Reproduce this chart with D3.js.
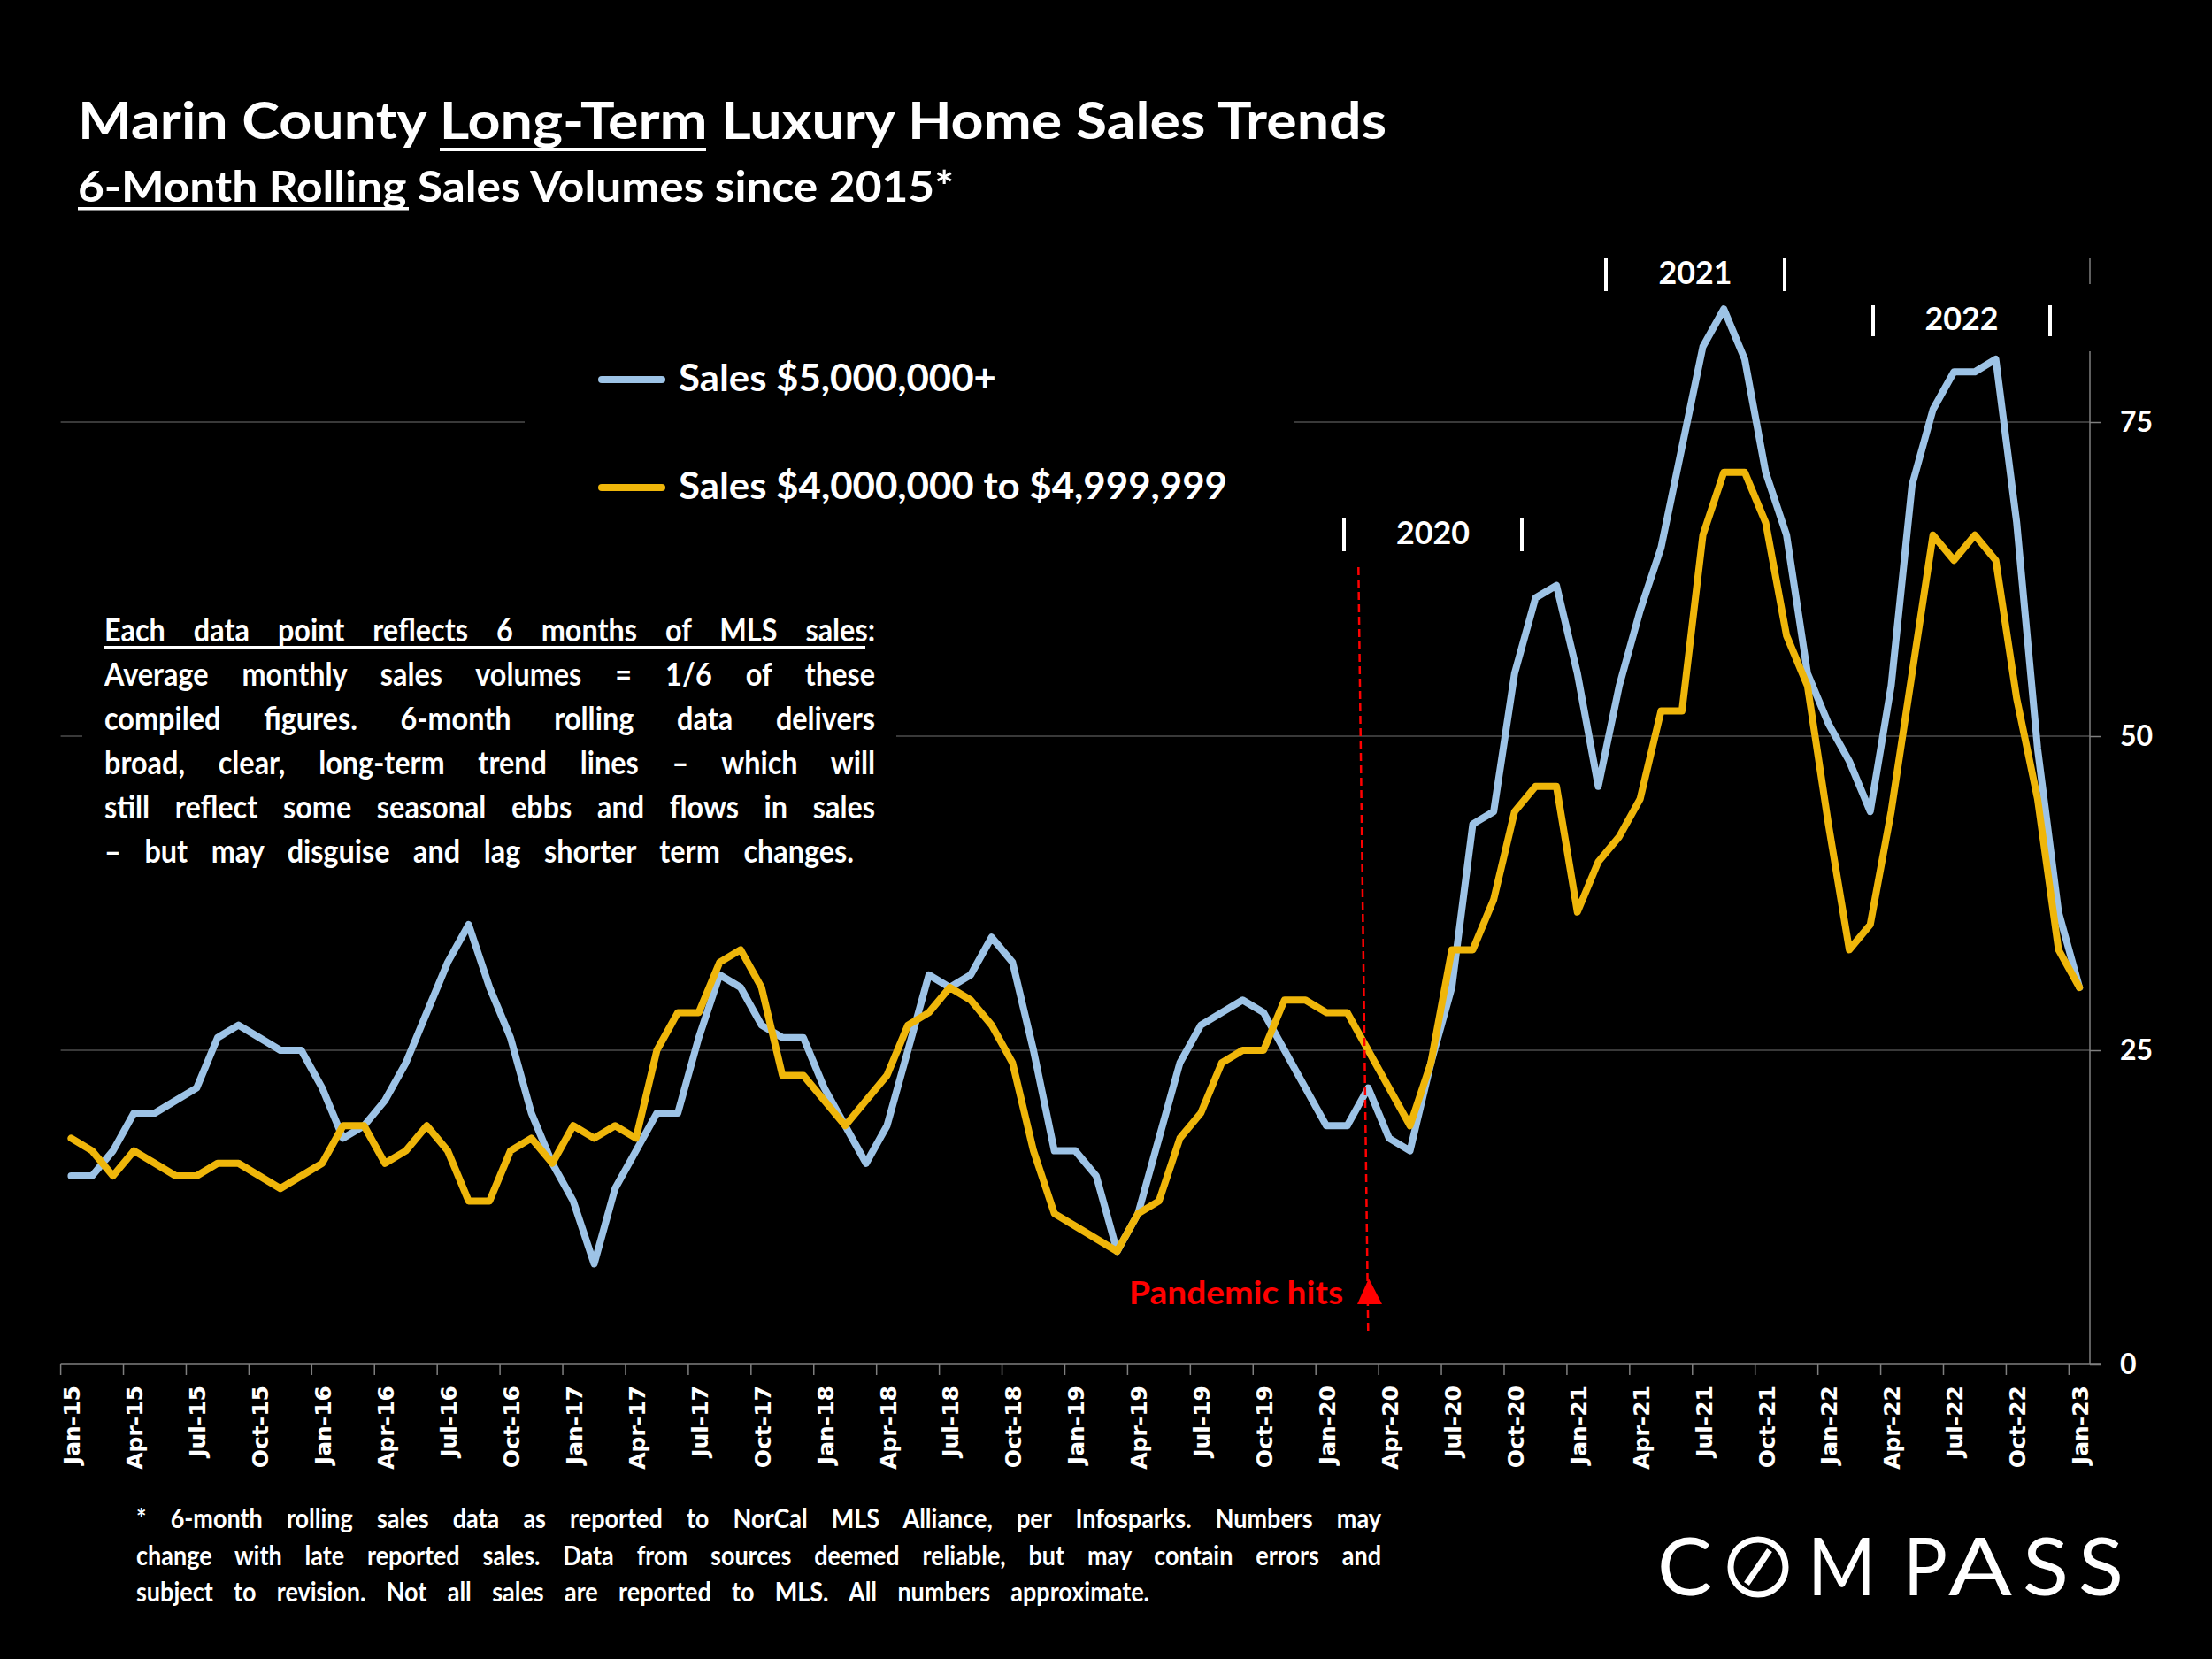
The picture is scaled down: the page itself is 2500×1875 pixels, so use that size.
<!DOCTYPE html>
<html>
<head>
<meta charset="utf-8">
<script src="https://cdn.jsdelivr.net/npm/d3@7"></script>
<style>
  html, body { margin: 0; padding: 0; background: #000; }
  svg { display: block; }
  text { font-family: Lato, sans-serif; font-weight: 700; fill: #fff; }
</style>
</head>
<body>
<svg id="chart" width="2500" height="1875"></svg>
<script>
// data
const months = [
  "Jan-15","Feb-15","Mar-15","Apr-15","May-15","Jun-15","Jul-15","Aug-15","Sep-15","Oct-15","Nov-15","Dec-15",
  "Jan-16","Feb-16","Mar-16","Apr-16","May-16","Jun-16","Jul-16","Aug-16","Sep-16","Oct-16","Nov-16","Dec-16",
  "Jan-17","Feb-17","Mar-17","Apr-17","May-17","Jun-17","Jul-17","Aug-17","Sep-17","Oct-17","Nov-17","Dec-17",
  "Jan-18","Feb-18","Mar-18","Apr-18","May-18","Jun-18","Jul-18","Aug-18","Sep-18","Oct-18","Nov-18","Dec-18",
  "Jan-19","Feb-19","Mar-19","Apr-19","May-19","Jun-19","Jul-19","Aug-19","Sep-19","Oct-19","Nov-19","Dec-19",
  "Jan-20","Feb-20","Mar-20","Apr-20","May-20","Jun-20","Jul-20","Aug-20","Sep-20","Oct-20","Nov-20","Dec-20",
  "Jan-21","Feb-21","Mar-21","Apr-21","May-21","Jun-21","Jul-21","Aug-21","Sep-21","Oct-21","Nov-21","Dec-21",
  "Jan-22","Feb-22","Mar-22","Apr-22","May-22","Jun-22","Jul-22","Aug-22","Sep-22","Oct-22","Nov-22","Dec-22",
  "Jan-23"
];
const sales5m = [
  15,15,17,20,20,21,22,26,27,26,25,25,
  22,18,19,21,24,28,32,35,30,26,20,16,
  13,8,14,17,20,20,26,31,30,27,26,26,
  22,19,16,19,25,31,30,31,34,32,25,17,
  17,15,9,12,18,24,27,28,29,28,25,22,
  19,19,22,18,17,24,30,43,44,55,61,62,
  55,46,54,60,65,73,81,84,80,71,66,55,
  51,48,44,54,70,76,79,79,80,67,49,36,
  30
];
const sales4m = [
  18,17,15,17,16,15,15,16,16,15,14,15,
  16,19,19,16,17,19,17,13,13,17,18,16,
  19,18,19,18,25,28,28,32,33,30,23,23,
  21,19,21,23,27,28,30,29,27,24,17,12,
  11,10,9,12,13,18,20,24,25,25,29,29,
  28,28,25,22,19,24,33,33,37,44,46,46,
  36,40,42,45,52,52,66,71,71,67,58,54,
  43,33,35,44,55,66,64,66,64,53,45,33,
  30
];
const yTicks = [0, 25, 50, 75];
const legendLabels = ["Sales $5,000,000+", "Sales $4,000,000 to $4,999,999"];
const noteLines = [
  "Each data point reflects 6 months of MLS sales:",
  "Average monthly sales volumes = 1/6 of these",
  "compiled figures. 6-month rolling data delivers",
  "broad, clear, long-term trend lines \u2013 which will",
  "still reflect some seasonal ebbs and flows in sales",
  "\u2013 but may disguise and lag shorter term changes."
];
const footLines = [
  "* 6-month rolling sales data as reported to NorCal MLS Alliance, per Infosparks. Numbers may",
  "change with late reported sales. Data from sources deemed reliable, but may contain errors and",
  "subject to revision. Not all sales are reported to MLS. All numbers approximate."
];

const blue = "#9DC3E6";
const yellow = "#EFB60A";
const svg = d3.select("#chart");
svg.append("rect").attr("width", 2500).attr("height", 1875).attr("fill", "#000");

const x = d3.scaleBand().domain(months).range([68.6, 2362]);
const y = d3.scaleLinear().domain([0, 75]).range([1542, 477]);
const mid = (m) => x(m) + x.bandwidth() / 2;

// text squeezed to a set width, Lato stands in for Calibri
function squeezed(str, px, py, size, width, color) {
  return svg.append("text")
    .attr("x", px).attr("y", py)
    .attr("font-size", size)
    .attr("textLength", width)
    .attr("lengthAdjust", "spacingAndGlyphs")
    .style("fill", color || "#fff")
    .text(str);
}

// justified line: glyphs narrowed by sx, the rest goes in the word gaps
function justified(str, px, py, size, width, sx) {
  const t = svg.append("text")
    .attr("transform", `translate(${px},${py}) scale(${sx},1)`)
    .attr("font-size", size)
    .text(str);
  const natural = t.node().getComputedTextLength();
  const gaps = str.split(" ").length - 1;
  t.style("word-spacing", ((width / sx - natural) / gaps) + "px");
}

// grid
svg.append("g").selectAll("line")
  .data(yTicks.filter((d) => d > 0))
  .join("line")
  .attr("x1", 68.6).attr("x2", 2362)
  .attr("y1", (d) => y(d)).attr("y2", (d) => y(d))
  .attr("stroke", "#4d4d4d").attr("stroke-width", 1.5);

// right axis with its own line, labels placed after
const yAxis = svg.append("g")
  .attr("transform", "translate(2362,0)")
  .call(d3.axisRight(y).tickValues(yTicks).tickSize(12).tickFormat(""));
yAxis.select(".domain").remove();
yAxis.selectAll("line").attr("stroke", "#7f7f7f").attr("stroke-width", 1.5);
svg.append("line")
  .attr("x1", 2362).attr("x2", 2362).attr("y1", 292).attr("y2", 1542)
  .attr("stroke", "#7f7f7f").attr("stroke-width", 1.5);

yTicks.forEach((d) => {
  svg.append("text")
    .attr("x", 2396).attr("y", y(d) + 11)
    .attr("font-size", 32)
    .text(d);
});

// black text boxes sit on top of the grid in the original slide
svg.append("rect").attr("x", 593).attr("y", 400).attr("width", 870).attr("height", 200).attr("fill", "#000");
svg.append("rect").attr("x", 93).attr("y", 680).attr("width", 920).attr("height", 320).attr("fill", "#000");
svg.append("rect").attr("x", 2100).attr("y", 321).attr("width", 280).attr("height", 76).attr("fill", "#000");

// bottom axis, ticks on the band edges and labels on the band centres
const tickMonths = months.filter((d, i) => i % 3 === 0);
svg.append("line")
  .attr("x1", 68.6).attr("x2", 2374).attr("y1", y(0)).attr("y2", y(0))
  .attr("stroke", "#7f7f7f").attr("stroke-width", 1.5);
svg.append("g").selectAll("line")
  .data(tickMonths)
  .join("line")
  .attr("x1", (d) => x(d)).attr("x2", (d) => x(d))
  .attr("y1", y(0)).attr("y2", y(0) + 12)
  .attr("stroke", "#7f7f7f").attr("stroke-width", 1.5);
svg.append("g").selectAll("text")
  .data(tickMonths)
  .join("text")
  .attr("transform", (d) => `translate(${mid(d) + 10},1566) rotate(-90)`)
  .attr("text-anchor", "end")
  .style("font-family", "'DejaVu Sans', sans-serif")
  .attr("font-size", 25)
  .text((d) => d);

// series
const line = d3.line().x((d, i) => mid(months[i])).y((d) => y(d));
[[sales5m, blue], [sales4m, yellow]].forEach(([vals, col]) => {
  svg.append("path")
    .attr("d", line(vals))
    .attr("fill", "none")
    .attr("stroke", col)
    .attr("stroke-width", 8)
    .attr("stroke-linejoin", "round")
    .attr("stroke-linecap", "round");
});

// titles
squeezed("Marin County Long-Term Luxury Home Sales Trends", 88, 157, 57, 1479);
svg.append("rect").attr("x", 497).attr("y", 167).attr("width", 301).attr("height", 4).attr("fill", "#fff");
squeezed("6-Month Rolling Sales Volumes since 2015*", 88, 228, 47, 990);
svg.append("rect").attr("x", 88).attr("y", 234).attr("width", 374).attr("height", 3.5).attr("fill", "#fff");

// legend
[[429, blue, 359], [551, yellow, 620]].forEach(([ly, col, w], i) => {
  svg.append("line")
    .attr("x1", 680).attr("x2", 748).attr("y1", ly).attr("y2", ly)
    .attr("stroke", col).attr("stroke-width", 8).attr("stroke-linecap", "round");
  squeezed(legendLabels[i], 767, ly + 13, 42, w);
});

// note
const noteWidths = [871, 871, 871, 871, 871, 847];
noteLines.forEach((s, i) => justified(s, 118, 725 + i * 50, 36, noteWidths[i], 0.9));
svg.append("rect").attr("x", 118).attr("y", 730).attr("width", 860).attr("height", 3).attr("fill", "#fff");

// footnote
const footWidths = [1407, 1407, 1145];
footLines.forEach((s, i) => justified(s, 154, 1727 + i * 41.5, 30, footWidths[i], 0.9));

// year brackets
const yearMarks = [
  { label: "2020", left: 1519, right: 1720, base: 615, top: 586, bottom: 623 },
  { label: "2021", left: 1815, right: 2017, base: 321, top: 292, bottom: 329 },
  { label: "2022", left: 2117, right: 2317, base: 373, top: 345, bottom: 380 }
];
yearMarks.forEach((m) => {
  [m.left, m.right].forEach((bx) => {
    svg.append("line")
      .attr("x1", bx).attr("x2", bx).attr("y1", m.top).attr("y2", m.bottom)
      .attr("stroke", "#fff").attr("stroke-width", 4);
  });
  const t = svg.append("text")
    .attr("x", (m.left + m.right) / 2).attr("y", m.base)
    .attr("text-anchor", "middle")
    .attr("font-size", 36)
    .text(m.label);
  t.attr("textLength", 83).attr("lengthAdjust", "spacingAndGlyphs");
});

// pandemic marker
const red = "#FF0000";
svg.append("line")
  .attr("x1", mid("Mar-20") - 11).attr("y1", 641)
  .attr("x2", mid("Mar-20")).attr("y2", 1507)
  .attr("stroke", red).attr("stroke-width", 2.5).attr("stroke-dasharray", "9 5");
svg.append("path")
  .attr("d", "M1547,1445L1562,1474L1534,1474Z")
  .attr("fill", red);
squeezed("Pandemic hits", 1276, 1474, 36, 242, red);

// compass wordmark
const logo = [["C", 1873, 62], ["M", 2043, 77], ["P", 2151, 50], ["A", 2202, 72], ["S", 2286, 52], ["S", 2349, 51]];
logo.forEach(([ch, lx, w]) => {
  svg.append("text")
    .attr("x", lx).attr("y", 1803)
    .attr("font-size", 92)
    .attr("textLength", w)
    .attr("lengthAdjust", "spacingAndGlyphs")
    .style("font-weight", 400)
    .text(ch);
});
svg.append("circle")
  .attr("cx", 1987).attr("cy", 1771).attr("r", 31)
  .attr("fill", "none").attr("stroke", "#fff").attr("stroke-width", 7);
svg.append("line")
  .attr("x1", 1974).attr("y1", 1790).attr("x2", 2000).attr("y2", 1752)
  .attr("stroke", "#fff").attr("stroke-width", 7);
</script>
</body>
</html>
